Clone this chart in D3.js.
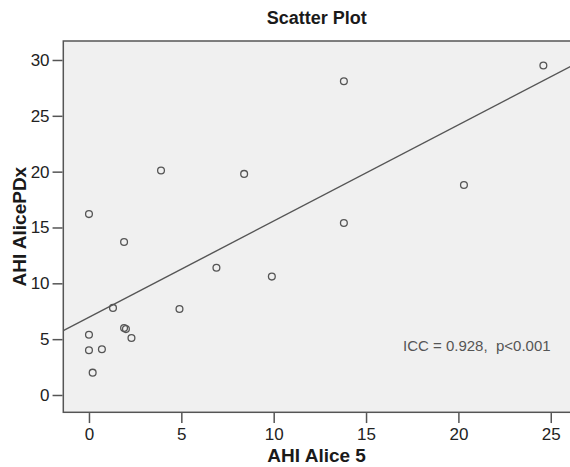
<!DOCTYPE html>
<html>
<head>
<meta charset="utf-8">
<script src="https://cdn.jsdelivr.net/npm/d3@7"></script>
<style>
  body { margin: 0; background: #fff; }
  svg { display: block; font-family: "Liberation Sans", Arial, sans-serif; }
</style>
</head>
<body>
<div id="chart"></div>
<script>
// values
var aliceFive = [0, 3.9, 8.4, 1.9, 6.9, 9.9, 1.3, 4.9, 0, 0, 0.7, 0.2, 1.9, 2.0, 2.3, 13.8, 24.6, 20.3, 13.8];
var alicePDx  = [16.2, 20.1, 19.8, 13.7, 11.4, 10.6, 7.8, 7.7, 5.4, 4.0, 4.1, 2.0, 6.0, 5.9, 5.1, 28.1, 29.5, 18.8, 15.4];
var fitIntercept = 6.96;
var fitSlope = 0.8615;
var xTicks = [0, 5, 10, 15, 20, 25];
var yTicks = [0, 5, 10, 15, 20, 25, 30];
var xDomain = [-1.39, 26.15];
var yDomain = [-1.55, 31.7];

var width = 570, height = 467;
var plot = { left: 63.3, top: 41, right: 572, bottom: 412.3 };

var svg = d3.select("#chart").append("svg")
  .attr("width", width)
  .attr("height", height);

var x = d3.scaleLinear().domain(xDomain).range([plot.left, plot.right]);
var y = d3.scaleLinear().domain(yDomain).range([plot.bottom, plot.top]);

// plot background
svg.append("rect")
  .attr("x", plot.left)
  .attr("y", plot.top)
  .attr("width", plot.right - plot.left)
  .attr("height", plot.bottom - plot.top)
  .attr("fill", "#f0f0f0")
  .attr("stroke", "#555")
  .attr("stroke-width", 1.5);

svg.append("clipPath").attr("id", "clip")
  .append("rect")
  .attr("x", plot.left)
  .attr("y", plot.top)
  .attr("width", plot.right - plot.left)
  .attr("height", plot.bottom - plot.top);

// axes
var xAxis = svg.append("g")
  .attr("transform", "translate(0," + (plot.bottom + 0.75) + ")")
  .call(d3.axisBottom(x).tickValues(xTicks).tickSize(10).tickPadding(5));
var yAxis = svg.append("g")
  .attr("transform", "translate(" + (plot.left - 0.75) + ",0)")
  .call(d3.axisLeft(y).tickValues(yTicks).tickSize(10).tickPadding(3));

[xAxis, yAxis].forEach(function (g) {
  g.select(".domain").remove();
  g.selectAll(".tick line").attr("stroke", "#555").attr("stroke-width", 1.5);
  g.selectAll(".tick text")
    .attr("fill", "#222")
    .style("font-size", "17px")
    .style("font-family", "\"Liberation Sans\", Arial, sans-serif");
});

// fit line
svg.append("line")
  .attr("clip-path", "url(#clip)")
  .attr("x1", x(xDomain[0]))
  .attr("y1", y(fitIntercept + fitSlope * xDomain[0]))
  .attr("x2", x(xDomain[1]))
  .attr("y2", y(fitIntercept + fitSlope * xDomain[1]))
  .attr("stroke", "#555")
  .attr("stroke-width", 1.4);

// points
svg.append("g")
  .selectAll("circle")
  .data(aliceFive)
  .enter()
  .append("circle")
  .attr("cx", function (d) { return x(d); })
  .attr("cy", function (d, i) { return y(alicePDx[i]); })
  .attr("r", 3.4)
  .attr("fill", "none")
  .attr("stroke", "#555")
  .attr("stroke-width", 1.3);

// annotation
svg.append("text")
  .attr("x", 403)
  .attr("y", 350.5)
  .attr("fill", "#555")
  .style("font-size", "15px")
  .style("white-space", "pre")
  .text("ICC = 0.928,  p<0.001");

// titles
var cx = (63.3 + 570) / 2;
svg.append("text")
  .attr("x", cx)
  .attr("y", 24)
  .attr("text-anchor", "middle")
  .attr("fill", "#1a1a1a")
  .style("font-size", "18px")
  .style("font-weight", "bold")
  .text("Scatter Plot");

svg.append("text")
  .attr("x", cx)
  .attr("y", 462)
  .attr("text-anchor", "middle")
  .attr("fill", "#1a1a1a")
  .style("font-size", "19px")
  .style("font-weight", "bold")
  .text("AHI Alice 5");

svg.append("text")
  .attr("transform", "translate(26," + ((plot.top + plot.bottom) / 2) + ") rotate(-90)")
  .attr("text-anchor", "middle")
  .attr("fill", "#1a1a1a")
  .style("font-size", "19px")
  .style("font-weight", "bold")
  .text("AHI AlicePDx");
</script>
</body>
</html>
